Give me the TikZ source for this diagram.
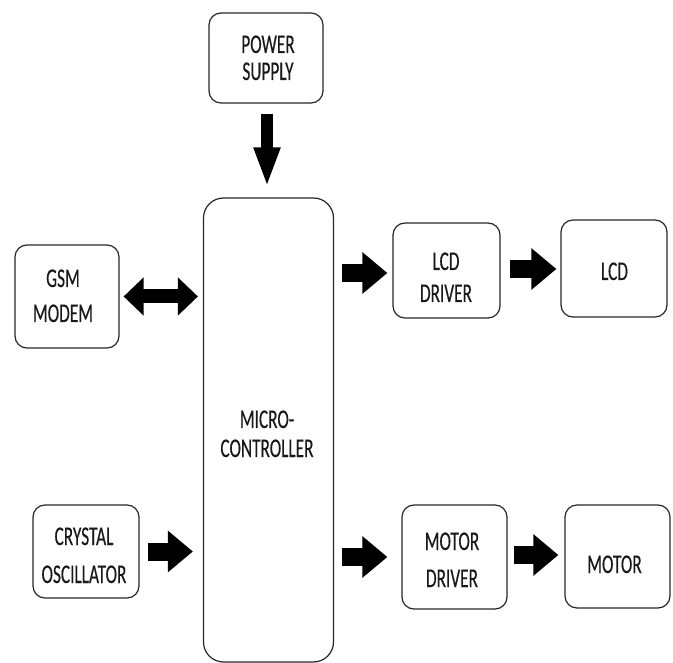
\documentclass[tikz,border=0pt]{standalone}
\usepackage{fontspec}
\setmainfont{Carlito}[FakeStretch=0.64,FakeBold=0.3]
\usetikzlibrary{arrows.meta}
\begin{document}
\begin{tikzpicture}[x=1pt,y=-1pt,
  blk/.style={draw=black!85, line width=1.2pt, rounded corners=12pt, inner sep=0pt},
  txt/.style={anchor=base, inner sep=0pt, font=\fontsize{27}{30}\selectfont, text=black!90},
  fatarrow/.style={draw=black, line width=18pt, -{Triangle[length=25pt,width=40pt]}},
]
\useasboundingbox (0,0) rectangle (673,663);
% boxes
\node[blk, minimum width=114pt, minimum height=90pt] (ps) at (266,58) {};
\node[blk, minimum width=130pt, minimum height=464pt, rounded corners=20pt] (mc) at (268.5,430) {};
\node[blk, minimum width=104pt, minimum height=103pt] (gsm) at (67,296.5) {};
\node[blk, minimum width=107pt, minimum height=95pt] (lcdd) at (446.5,270.5) {};
\node[blk, minimum width=106pt, minimum height=97pt] (lcd) at (614,268.5) {};
\node[blk, minimum width=106pt, minimum height=93pt] (xtal) at (86,551.5) {};
\node[blk, minimum width=105pt, minimum height=104pt] (motd) at (454.5,557) {};
\node[blk, minimum width=105pt, minimum height=103pt] (mot) at (617.5,556.5) {};
% texts
\node[txt] (ps1) at (268,53) {POWER};
\node[txt] (ps2) at (268,80) {SUPPLY};
\node[txt] (mc1) at (267,428) {MICRO-};
\node[txt] (mc2) at (267,457) {CONTROLLER};
\node[txt] (gsm1) at (63,287) {GSM};
\node[txt] (gsm2) at (63,322) {MODEM};
\node[txt] (lcdd1) at (446,270) {LCD};
\node[txt] (lcdd2) at (446,302) {DRIVER};
\node[txt] (lcd1) at (614.5,280) {LCD};
\node[txt] (xtal1) at (84,545) {CRYSTAL};
\node[txt] (xtal2) at (84,583) {OSCILLATOR};
\node[txt] (motd1) at (452,550) {MOTOR};
\node[txt] (motd2) at (452,587) {DRIVER};
\node[txt] (mot1) at (614.5,573) {MOTOR};
% arrows
\draw[line width=12pt, -{Triangle[length=40pt,width=24pt]}, shorten <=10pt, shorten >=10pt]
  ([xshift=1pt]ps.south) -- ([xshift=1pt]ps.south |- mc.north);
\draw[line width=14pt, {Triangle[length=20pt,width=37pt]}-{Triangle[length=20pt,width=37pt]},
  shorten <=4pt, shorten >=5pt] (gsm.east) -- (gsm.east -| mc.west);
\draw[fatarrow, shorten <=8pt, shorten >=5pt] ([yshift=-2.5pt]mc.east |- lcdd.west) -- ([yshift=-2.5pt]lcdd.west);
\draw[fatarrow, shorten <=9pt, shorten >=4pt] ([yshift=1.5pt]lcdd.east) -- ([yshift=1.5pt]lcdd.east -| lcd.west);
\draw[fatarrow, shorten <=8pt, shorten >=10pt] (xtal.east) -- (xtal.east -| mc.west);
\draw[fatarrow, shorten <=8pt, shorten >=14pt] (mc.east |- motd.west) -- (motd.west);
\draw[fatarrow, shorten <=6pt, shorten >=6pt] ([yshift=2pt]motd.east) -- ([yshift=2pt]motd.east -| mot.west);
\end{tikzpicture}
\end{document}
